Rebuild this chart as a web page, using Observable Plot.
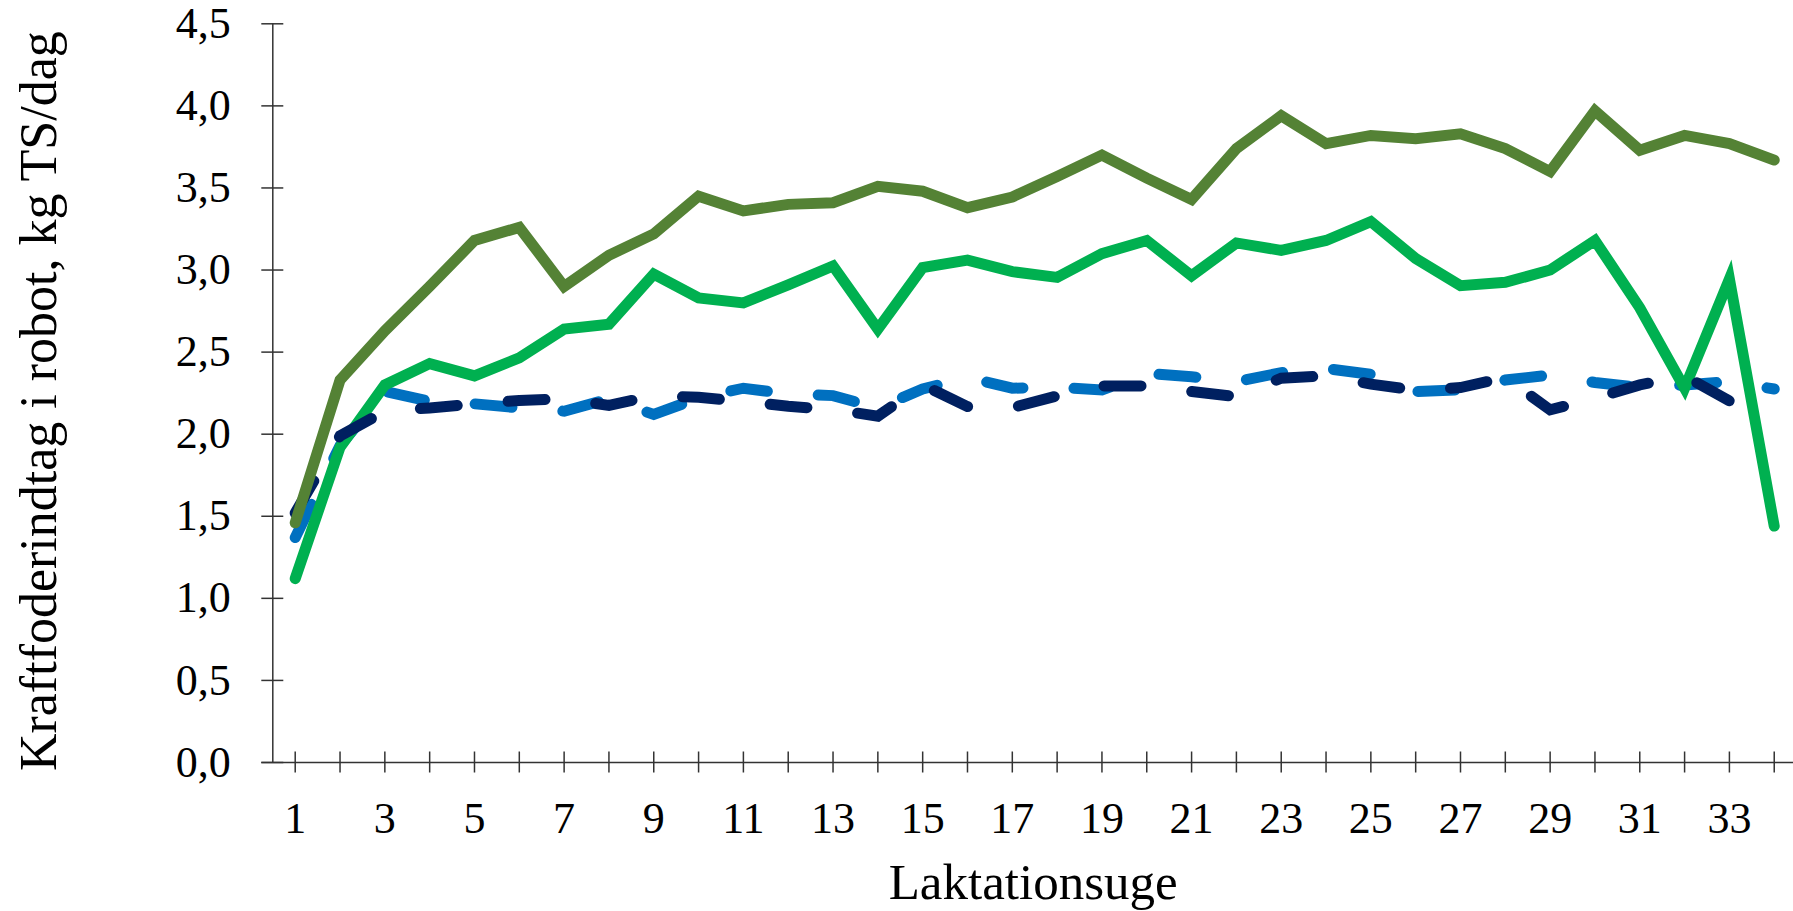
<!DOCTYPE html>
<html>
<head>
<meta charset="utf-8">
<script src="https://cdn.jsdelivr.net/npm/d3@7"></script>
<script src="https://cdn.jsdelivr.net/npm/@observablehq/plot@0.6"></script>
<style>
  html, body { margin: 0; padding: 0; background: #fff; }
  #chart svg { display: block; }
</style>
</head>
<body>
<div id="chart"></div>
<script>
// Categories: lactation weeks
const weeks = [1,2,3,4,5,6,7,8,9,10,11,12,13,14,15,16,17,18,19,20,21,22,23,24,25,26,27,28,29,30,31,32,33,34];

// Series values (kg TS/dag)
const oliveValues = [1.46,2.33,2.63,2.90,3.18,3.26,2.90,3.09,3.22,3.45,3.36,3.40,3.41,3.51,3.48,3.38,3.445,3.57,3.70,3.56,3.43,3.74,3.94,3.77,3.82,3.80,3.83,3.74,3.60,3.97,3.73,3.82,3.77,3.67];
const greenValues = [1.12,1.92,2.30,2.43,2.355,2.465,2.64,2.67,2.975,2.83,2.80,2.91,3.025,2.64,3.015,3.06,2.99,2.955,3.10,3.18,2.965,3.165,3.12,3.18,3.295,3.07,2.905,2.925,3.00,3.18,2.77,2.28,2.945,1.44];
const blueValues  = [1.37,1.93,2.26,2.20,2.185,2.16,2.14,2.215,2.12,2.22,2.28,2.245,2.235,2.16,2.275,2.345,2.28,2.285,2.27,2.37,2.35,2.32,2.375,2.40,2.365,2.26,2.27,2.33,2.36,2.315,2.285,2.30,2.32,2.275];
const navyValues  = [1.52,1.99,2.14,2.16,2.185,2.205,2.215,2.175,2.235,2.225,2.20,2.17,2.15,2.11,2.30,2.168,2.162,2.233,2.294,2.294,2.26,2.229,2.341,2.355,2.305,2.268,2.284,2.345,2.148,2.219,2.30,2.355,2.203,2.244];

// Tick labels
const yTicks = [0, 0.5, 1, 1.5, 2, 2.5, 3, 3.5, 4, 4.5];
const xTickLabels = [1,3,5,7,9,11,13,15,17,19,21,23,25,27,29,31,33];
const xTitle = "Laktationsuge";
const yTitle = "Kraftfoderindtag i robot, kg TS/dag";

// Drawing order: bottom to top
const series = [
  {name: "blue",  color: "#0070C0", dash: "37,51", values: blueValues},
  {name: "green", color: "#00B050", dash: undefined, values: greenValues},
  {name: "navy",  color: "#002060", dash: "37,51", values: navyValues},
  {name: "olive", color: "#548235", dash: undefined, values: oliveValues}
];

const fmt = d => d.toFixed(1).replace(".", ",");
const axisColor = "#333";

const lineMarks = series.map(s =>
  Plot.line(weeks.map((w, i) => ({week: w, value: s.values[i]})), {
    x: "week", y: "value",
    stroke: s.color, strokeWidth: 11,
    strokeDasharray: s.dash,
    strokeLinecap: "round", strokeLinejoin: "miter", strokeMiterlimit: 4
  })
);

const chart = Plot.plot({
  width: 1793,
  height: 911,
  marginLeft: 272.3,
  marginRight: 0,
  marginTop: 23.3,
  marginBottom: 149,
  x: {type: "linear", domain: [0.5, 34.43]},
  y: {type: "linear", domain: [0, 4.5]},
  style: {fontFamily: "'Liberation Serif', 'Times New Roman', serif", fontSize: "44px", color: "#000", background: "#fff"},
  marks: [
    // crossing tick marks
    Plot.axisY(yTicks, {tickSize: 22, dx: 11, fill: "none", label: null, stroke: axisColor, strokeWidth: 1.5}),
    Plot.axisX(weeks, {tickSize: 21, dy: -10.5, fill: "none", label: null, stroke: axisColor, strokeWidth: 1.5}),
    // tick labels
    Plot.axisY(yTicks, {tickSize: 0, tickPadding: 42, tickFormat: fmt, label: null, fontSize: 44, fill: "#000"}),
    Plot.axisX(xTickLabels, {tickSize: 0, tickPadding: 39, tickFormat: d => String(d), label: null, fontSize: 44, fill: "#000"}),
    // axis lines
    Plot.ruleX([0.5], {y1: 0, y2: 4.5, stroke: axisColor, strokeWidth: 1.5}),
    Plot.ruleY([0], {insetLeft: -11, stroke: axisColor, strokeWidth: 1.5}),
    ...lineMarks,
    // axis titles
    Plot.text([yTitle], {frameAnchor: "left", rotate: -90, lineAnchor: "bottom", textAnchor: "middle", dx: -216.8, dy: 8, fontSize: 52, fill: "#000"}),
    Plot.text([xTitle], {frameAnchor: "bottom", lineAnchor: "bottom", textAnchor: "middle", dy: 136, fontSize: 51, fill: "#000"})
  ]
});

document.getElementById("chart").appendChild(chart);
</script>
</body>
</html>
